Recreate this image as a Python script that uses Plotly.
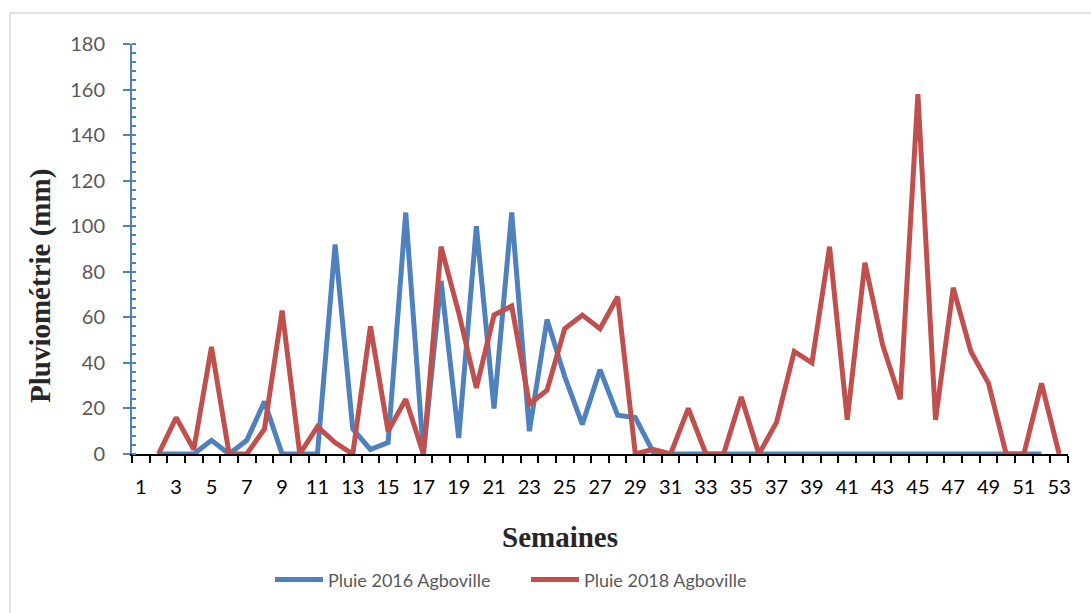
import plotly.graph_objects as go

# Weekly rainfall (mm) at Agboville, weeks 2..53
weeks_2016 = list(range(2, 53))
rain_2016 = [0, 0, 0, 6, 0, 6, 23, 0, 0, 0, 92, 11, 2, 5, 106, 0, 76, 7, 100, 20,
             106, 10, 59, 34, 13, 37, 17, 16, 1, 0, 0, 0, 0, 0, 0, 0, 0, 0, 0, 0,
             0, 0, 0, 0, 0, 0, 0, 0, 0, 0, 0]

weeks_2018 = list(range(2, 54))
rain_2018 = [0, 16, 2, 47, 0, 0, 11, 63, 0, 12, 5, 0, 56, 10, 24, 0, 91, 62, 29, 61,
             65, 22, 28, 55, 61, 55, 69, 0, 2, 0, 20, 0, 0, 25, 0, 14, 45, 40, 91, 15,
             84, 48, 24, 158, 15, 73, 45, 31, 0, 0, 31, 0]

x_tick_vals = list(range(1, 54, 2))
x_tick_text = [str(v) for v in x_tick_vals]

BLUE = "#4f81bd"
RED = "#c0504d"
GREY = "#595959"
FONT = "Lato, Open Sans, sans-serif"
SERIF = "Liberation Serif, Times New Roman, serif"

fig = go.Figure()
fig.add_trace(go.Scatter(x=weeks_2016, y=rain_2016, mode="lines", name="Pluie 2016 Agboville",
                         line=dict(color=BLUE, width=5)))
fig.add_trace(go.Scatter(x=weeks_2018, y=rain_2018, mode="lines", name="Pluie 2018 Agboville",
                         line=dict(color=RED, width=5)))

fig.update_layout(
    width=1091, height=613,
    margin=dict(l=132, r=23, t=44, b=159),
    paper_bgcolor="white", plot_bgcolor="white",
    font=dict(family=FONT, size=18, color=GREY),
    showlegend=True,
    legend=dict(orientation="h", x=(270 - 132) / 936, xanchor="left",
                y=-0.307, yanchor="middle",
                font=dict(family=FONT, size=18, color=GREY), itemwidth=48,
                entrywidth=193, tracegroupgap=0),
    xaxis=dict(range=[0.5, 53.5], tickmode="array", tickvals=x_tick_vals,
               ticktext=x_tick_text, ticks="", showgrid=False, zeroline=False,
               showline=True, linecolor="black", linewidth=2,
               tickfont=dict(family=FONT, size=20, color="black"),
               ticklabelstandoff=14,
               minor=dict(tick0=0.5, dtick=1, ticks="outside", ticklen=7,
                          tickcolor="black", tickwidth=2, showgrid=False)),
    yaxis=dict(range=[0, 180], tickmode="linear", tick0=0, dtick=20,
               ticks="outside", ticklen=7, tickcolor=BLUE, tickwidth=2,
               showgrid=False, zeroline=False, showline=True, linecolor=BLUE,
               linewidth=2, tickfont=dict(family=FONT, size=20, color=GREY),
               ticklabelstandoff=14,
               minor=dict(dtick=4, ticks="inside", ticklen=4, tickcolor=BLUE,
                          tickwidth=2, showgrid=False)),
    yaxis2=dict(range=[0, 180], overlaying="y", side="left", tickmode="linear",
                tick0=0, dtick=20, ticks="inside", ticklen=4, tickcolor=BLUE,
                tickwidth=2, showticklabels=False, showgrid=False,
                zeroline=False, showline=False),
)

# Axis titles
fig.add_annotation(text="<b>Pluviométrie (mm)</b>", xref="paper", yref="paper",
                   x=(40 - 132) / 936, y=(454 - 286) / 410, textangle=-90,
                   showarrow=False, xanchor="center", yanchor="middle",
                   font=dict(family=SERIF, size=29, color="#262626"))
fig.add_annotation(text="<b>Semaines</b>", xref="paper", yref="paper",
                   x=(560 - 132) / 936, y=(454 - 537) / 410,
                   showarrow=False, xanchor="center", yanchor="middle",
                   font=dict(family=SERIF, size=29, color="#262626"))

# Chart frame
fig.add_shape(type="rect", xref="paper", yref="paper",
              x0=(10 - 132) / 936, x1=(1100 - 132) / 936,
              y0=(454 - 620) / 410, y1=(454 - 13) / 410,
              line=dict(color="#d9d9d9", width=1.5), fillcolor="rgba(0,0,0,0)",
              layer="below")

fig.write_html("out.html")
